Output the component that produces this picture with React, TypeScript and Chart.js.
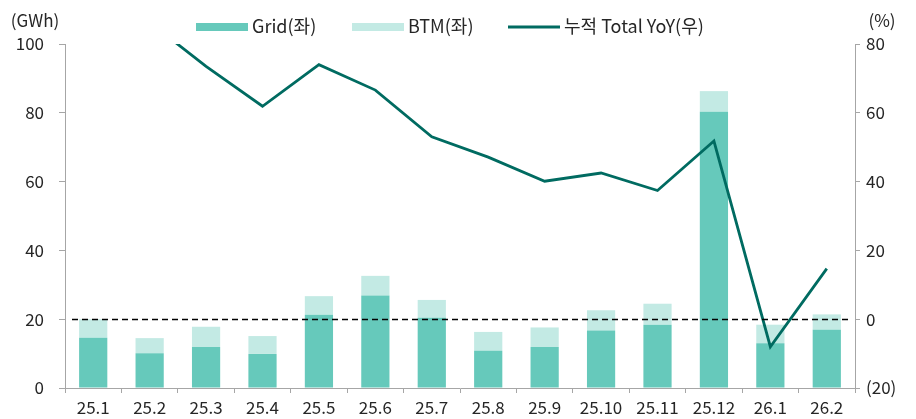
import React, { useEffect, useRef } from "react";
import { Chart, registerables } from "chart.js";

Chart.register(...registerables);

const categories = ["25.1", "25.2", "25.3", "25.4", "25.5", "25.6", "25.7", "25.8", "25.9", "25.10", "25.11", "25.12", "26.1", "26.2"];
const gridValues = [14.6, 10.1, 11.9, 9.9, 21.3, 26.9, 20.4, 10.8, 11.9, 16.7, 18.4, 80.3, 13.0, 16.9];
const btmValues = [5.4, 4.4, 5.9, 5.2, 5.4, 5.7, 5.2, 5.5, 5.7, 5.9, 6.1, 6.0, 5.4, 4.5];
const yoyValues = [120, 86.3, 73.5, 61.9, 74.0, 66.6, 53.0, 47.1, 40.1, 42.5, 37.4, 51.8, -8.0, 14.7];

const seriesLabels = ["Grid(좌)", "BTM(좌)", "누적 Total YoY(우)"];
const leftTitle = "(GWh)";
const rightTitle = "(%)";

const GRID_COLOR = "#66C9BB";
const BTM_COLOR = "#C3EAE4";
const LINE_COLOR = "#006B61";
const AXIS_COLOR = "#A6A6A6";
const TEXT_COLOR = "#262626";
const FONT = '"Noto Sans CJK KR", "Noto Sans", sans-serif';
const FONT_SIZE = 17;
const LEGEND_FONT_SIZE = 18;
const LEGEND_ITEM_X = [196, 352, 508];

const extras = {
  id: "extras",
  afterDatasetsDraw(chart: any) {
    const { ctx, chartArea } = chart;
    const y1 = chart.scales.y1;
    const yy = Math.round(y1.getPixelForValue(0)) + 0.5;
    ctx.save();
    ctx.strokeStyle = "#000";
    ctx.lineWidth = 1.3;
    ctx.setLineDash([6, 4]);
    ctx.beginPath();
    ctx.moveTo(chartArea.left + 7, yy);
    ctx.lineTo(chartArea.right - 3, yy);
    ctx.stroke();
    ctx.restore();
  },
  afterDraw(chart: any) {
    const { ctx } = chart;
    ctx.save();
    ctx.font = `${FONT_SIZE}px ${FONT}`;
    ctx.fillStyle = TEXT_COLOR;
    ctx.textBaseline = "middle";
    ctx.textAlign = "center";
    ctx.fillText(leftTitle, 35, 21);
    ctx.fillText(rightTitle, 882, 21);

    // legend
    const boxW = 52;
    const gapText = 4;
    const cy = 27;
    ctx.font = `${LEGEND_FONT_SIZE}px ${FONT}`;
    ctx.textAlign = "left";
    seriesLabels.forEach((label, i) => {
      const x = LEGEND_ITEM_X[i];
      if (i < 2) {
        ctx.fillStyle = i === 0 ? GRID_COLOR : BTM_COLOR;
        ctx.fillRect(x, cy - 4, boxW, 8);
      } else {
        ctx.strokeStyle = LINE_COLOR;
        ctx.lineWidth = 3;
        ctx.beginPath();
        ctx.moveTo(x, cy);
        ctx.lineTo(x + boxW, cy);
        ctx.stroke();
      }
      ctx.fillStyle = TEXT_COLOR;
      ctx.fillText(label, x + boxW + gapText, cy - 1);
    });
    ctx.restore();
  },
};

export default function App() {
  const ref = useRef<HTMLCanvasElement>(null);
  useEffect(() => {
    if (!ref.current) return;
    Chart.defaults.font.family = FONT;
    Chart.defaults.font.size = FONT_SIZE;
    Chart.defaults.color = TEXT_COLOR;
    const chart = new Chart(ref.current, {
      type: "bar",
      data: {
        labels: categories,
        datasets: [
          {
            type: "line",
            label: seriesLabels[2],
            data: yoyValues,
            yAxisID: "y1",
            borderColor: LINE_COLOR,
            backgroundColor: LINE_COLOR,
            borderWidth: 2.8,
            pointRadius: 0,
            tension: 0,
            order: 0,
          } as any,
          {
            type: "bar",
            label: seriesLabels[0],
            data: gridValues,
            yAxisID: "y",
            backgroundColor: GRID_COLOR,
            categoryPercentage: 1,
            barPercentage: 0.5,
            order: 1,
            stack: "s",
          },
          {
            type: "bar",
            label: seriesLabels[1],
            data: btmValues,
            yAxisID: "y",
            backgroundColor: BTM_COLOR,
            categoryPercentage: 1,
            barPercentage: 0.5,
            order: 1,
            stack: "s",
          },
        ],
      },
      options: {
        responsive: false,
        animation: false,
        layout: { padding: { top: 44, left: 0, right: 0, bottom: 0 } },
        plugins: { legend: { display: false }, tooltip: { enabled: false } },
        scales: {
          x: {
            stacked: true,
            grid: { display: true, drawOnChartArea: false, drawTicks: true, tickLength: 5, color: AXIS_COLOR, offset: true },
            border: { color: AXIS_COLOR },
            ticks: { color: TEXT_COLOR, font: { size: FONT_SIZE }, padding: 4, maxRotation: 0, autoSkip: false },
            afterFit: (s: any) => { s.height = 31; },
          },
          y: {
            stacked: true,
            position: "left",
            min: 0,
            max: 100,
            grid: { drawOnChartArea: false, drawTicks: true, tickLength: 6, color: AXIS_COLOR },
            border: { color: AXIS_COLOR },
            ticks: { stepSize: 20, padding: 15, color: TEXT_COLOR, font: { size: FONT_SIZE } },
            afterFit: (s: any) => { s.width = 65; },
          },
          y1: {
            position: "right",
            min: -20,
            max: 80,
            grid: { drawOnChartArea: false, drawTicks: true, tickLength: 5, color: AXIS_COLOR },
            border: { color: AXIS_COLOR },
            ticks: {
              stepSize: 20,
              padding: 6,
              color: TEXT_COLOR,
              font: { size: FONT_SIZE },
              callback: (v: any) => (Number(v) < 0 ? `(${Math.abs(Number(v))})` : `${v}`),
            },
            afterFit: (s: any) => { s.width = 61; },
          },
        },
      },
      plugins: [extras],
    });
    return () => chart.destroy();
  }, []);
  return (
    <div style={{ position: "fixed", left: 0, top: 0, width: 916, height: 419, background: "#fff" }}>
      <canvas ref={ref} width={916} height={419} style={{ width: 916, height: 419, display: "block" }} />
    </div>
  );
}
